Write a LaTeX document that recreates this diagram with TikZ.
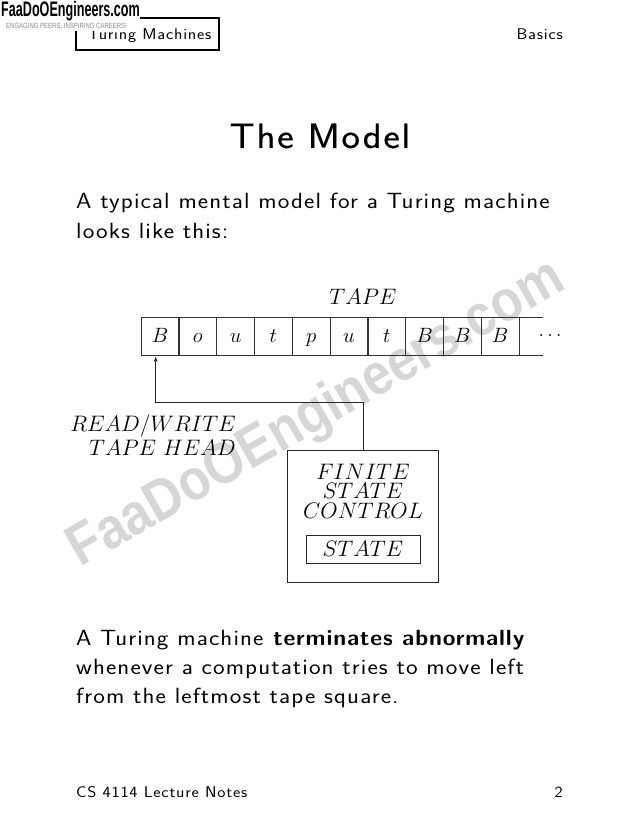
\documentclass[tikz,border=0pt]{standalone}
\usepackage{fix-cm}
\usepackage{fontspec}
\setsansfont[LetterSpace=5,FakeStretch=1.12,BoldFeatures={FakeStretch=1.05,LetterSpace=4}]{Latin Modern Sans}
\newfontfamily\logofont[FakeStretch=0.6]{Liberation Sans}
\newfontfamily\markfont[FakeStretch=0.88]{Liberation Sans}
\newfontfamily\sloganfont[FakeStretch=0.8]{Liberation Sans}
\newfontfamily\titlefont[LetterSpace=5,FakeStretch=1.12,FakeBold=0.4]{Latin Modern Sans}
\usetikzlibrary{arrows.meta}
\tikzset{
    body/.style={anchor=base west,inner sep=0pt,font=\fontsize{22}{26}\sffamily},
    small/.style={anchor=base,inner sep=0pt,font=\fontsize{15.5}{18}\sffamily},
    lab/.style={inner sep=0pt,font=\fontsize{22.4}{24}\selectfont,align=center},
    cell/.style={draw=black!80,line width=0.8pt,minimum width=37.75pt,minimum height=38pt,inner sep=0pt,outer sep=0pt,text height=13pt,text depth=2.4pt,font=\fontsize{20.7}{23}\selectfont},
    box/.style={draw=black!85,line width=0.9pt,inner sep=0pt,outer sep=0pt}
}
\begin{document}
\begin{tikzpicture}[x=1pt,y=-1pt]
    \useasboundingbox (0,0) rectangle (638,826);
    % Watermark
    \node[rotate=29.9,text=black!16,inner sep=0pt,font=\fontsize{58}{58}\bfseries\markfont] (mark) at (317,415) {FaaDoOEngineers.com};
    % Header
    \node[draw=black,line width=2pt,minimum width=143pt,minimum height=32pt,inner sep=0pt] (topic) at (147.5,34) {};
    \node[small,anchor=base west] (topictext) at (88,39.5) {Turing Machines};
    \node[small,anchor=base east] (section) at (563,39.5) {Basics};
    % Logo
    \fill[white] (0,0) rectangle (140,31);
    \node[anchor=west,inner sep=0pt,text=black,font=\fontsize{21}{22}\bfseries\logofont] (logo) at (1,11) {FaaDoOEngineers.com};
    \node[anchor=west,inner sep=0pt,text=black!45,font=\fontsize{7.5}{8}\sloganfont] (slogan) at (6,26) {ENGAGING PEERS, INSPIRING CAREERS!};
    % Title and text
    \node[anchor=base,inner sep=0pt,font=\fontsize{35}{38}\titlefont] (title) at (320,148) {The Model};
    \node[body] (lineone) at (76,209) {A typical mental model for a Turing machine};
    \node[body] (linetwo) at (76,238) {looks like this:};
    \node[body] (linethree) at (76,645) {A Turing machine \textbf{terminates abnormally}};
    \node[body] (linefour) at (76,674) {whenever a computation tries to move left};
    \node[body] (linefive) at (76,703) {from the leftmost tape square.};
    % Tape
    \node[lab] (tape) at (363,297) {$TAPE$};
    \foreach \i/\s in {0/B,1/o,2/u,3/t,4/p,5/u,6/t,7/B,8/B,9/B}
        \node[cell] (c\i) at ({160+37.8*\i},336.7) {$\s$};
    \draw[black!80,line width=0.8pt] (c9.north east) -- ++(24,0);
    \draw[black!80,line width=0.8pt] (c9.south east) -- ++(24,0);
    \node[font=\fontsize{20}{23}\selectfont,inner sep=0pt] (dots) at (550,336) {$\ldots$};
    % Head
    \node[lab,align=right,anchor=north east] (head) at (236,415) {$READ/WRITE$\\$TAPE\ HEAD$};
    % Control
    \node[box,minimum width=151pt,minimum height=132pt] (control) at (363.2,516.2) {};
    \node[lab,font=\fontsize{22.4}{19.5}\selectfont] (finite) at (363,491) {$FINITE$\\$STATE$\\$CONTROL$};
    \node[box,minimum width=114pt,minimum height=28.5pt,font=\fontsize{22.4}{23}\selectfont] (state) at (363,549.2) {$STATE$};
    % Arrow
    \coordinate (headpoint) at (155.7,356.3);
    \draw[black!85,line width=0.9pt,-{Latex[length=5pt,width=4pt]}] (control.north) |- (270,402.7) -| (headpoint);
    % Footer
    \node[small,anchor=base west] (notes) at (76,797) {CS 4114 Lecture Notes};
    \node[small,anchor=base east] (page) at (563,797) {2};
\end{tikzpicture}
\end{document}
